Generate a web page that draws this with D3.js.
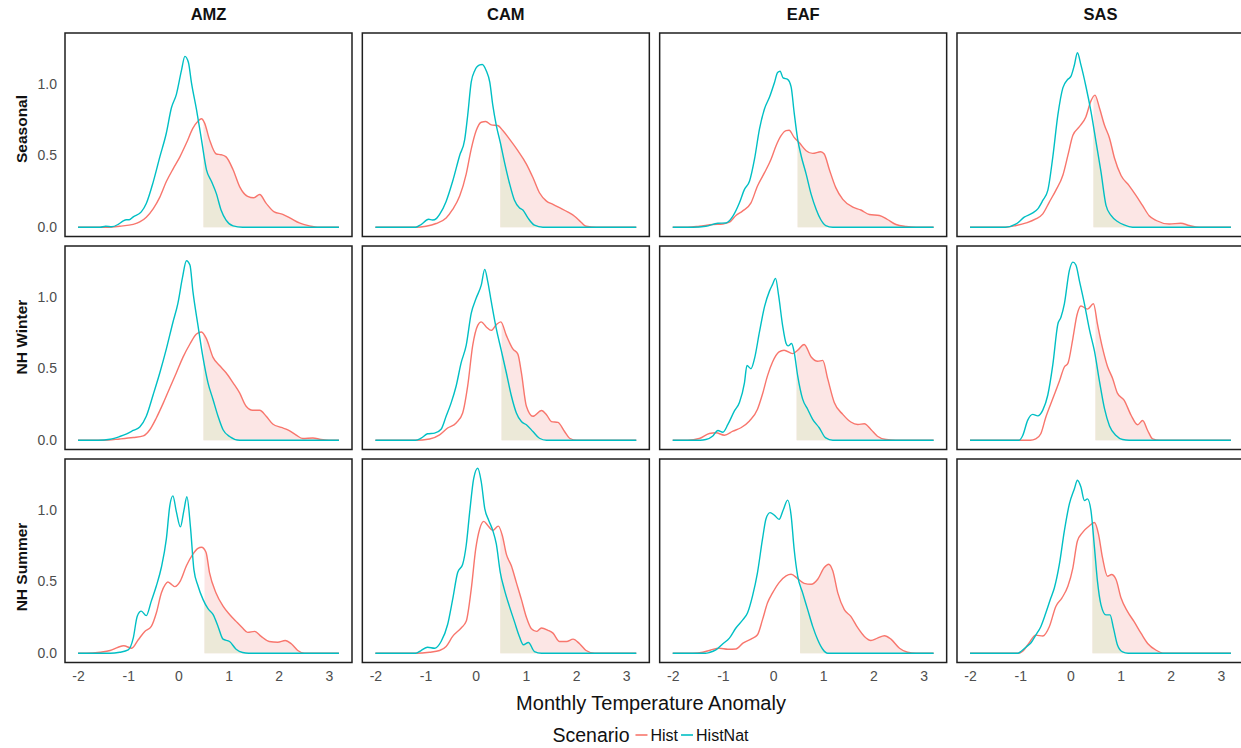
<!DOCTYPE html>
<html>
<head>
<meta charset="utf-8">
<script src="https://cdn.jsdelivr.net/npm/d3@7"></script>
<style>
  body { margin: 0; background: #ffffff; }
  svg text { font-family: "Liberation Sans", Arial, Helvetica, sans-serif; }
</style>
</head>
<body>
<svg id="chart" width="1241" height="748"></svg>
<script>
// ---------------- DATA ----------------
const regions = ["AMZ", "CAM", "EAF", "SAS"];
const seasons = ["Seasonal", "NH Winter", "NH Summer"];
const scenarios = ["Hist", "HistNat"];
const xTicks = [-2, -1, 0, 1, 2, 3];
const yTicks = [0, 0.5, 1.0];
const xTickLabels = ["-2", "-1", "0", "1", "2", "3"];
const yTickLabels = ["0.0", "0.5", "1.0"];
const xTitle = "Monthly Temperature Anomaly";
const legendTitle = "Scenario";

// threshold where shading starts (per region, for each season)
const thresholdSeasonal = [0.50, 0.49, 0.49, 0.46];
const thresholdWinter   = [0.50, 0.515, 0.47, 0.50];
const thresholdSummer   = [0.52, 0.49, 0.54, 0.44];

// density curves: [anomaly, density]
const amzSeasonalHist = [[-2,0],[-1.4,0],[-1.17,0.007],[-0.9,0.02],[-0.77,0.037],[-0.64,0.07],[-0.5,0.13],[-0.37,0.21],[-0.24,0.318],[-0.1,0.41],[0.03,0.49],[0.16,0.586],[0.29,0.69],[0.39,0.738],[0.46,0.755],[0.52,0.727],[0.62,0.61],[0.755,0.51],[0.85,0.505],[0.95,0.49],[1.09,0.40],[1.22,0.283],[1.38,0.215],[1.5,0.205],[1.62,0.228],[1.75,0.166],[1.91,0.107],[2.08,0.09],[2.25,0.06],[2.41,0.03],[2.61,0.01],[2.81,0],[3.2,0]];
const amzSeasonalNat = [[-2,0],[-1.56,0],[-1.45,0.007],[-1.33,0.003],[-1.2,0.02],[-1.1,0.044],[-1.04,0.052],[-0.98,0.052],[-0.9,0.072],[-0.74,0.107],[-0.64,0.166],[-0.5,0.318],[-0.37,0.49],[-0.24,0.656],[-0.14,0.83],[-0.04,0.925],[0.06,1.09],[0.13,1.19],[0.2,1.147],[0.26,1.007],[0.36,0.82],[0.46,0.61],[0.56,0.40],[0.66,0.318],[0.755,0.236],[0.85,0.12],[0.95,0.05],[1.09,0.01],[1.28,0],[3.2,0]];

const camSeasonalHist = [[-2,0],[-1.2,0],[-0.99,0.007],[-0.79,0.026],[-0.59,0.065],[-0.46,0.124],[-0.32,0.217],[-0.19,0.37],[-0.09,0.544],[0.01,0.673],[0.11,0.731],[0.2,0.736],[0.31,0.713],[0.44,0.708],[0.54,0.673],[0.67,0.615],[0.84,0.533],[1.01,0.44],[1.14,0.346],[1.27,0.24],[1.41,0.182],[1.54,0.159],[1.67,0.136],[1.84,0.105],[1.97,0.077],[2.1,0.035],[2.2,0.007],[2.4,0],[3.2,0]];
const camSeasonalNat = [[-2,0],[-1.2,0],[-1.09,0.019],[-0.94,0.056],[-0.86,0.05],[-0.78,0.062],[-0.72,0.089],[-0.59,0.18],[-0.46,0.32],[-0.32,0.50],[-0.22,0.61],[-0.16,0.78],[-0.09,1.01],[-0.02,1.09],[0.08,1.13],[0.13,1.133],[0.21,1.09],[0.28,1.01],[0.34,0.85],[0.41,0.71],[0.49,0.59],[0.575,0.45],[0.67,0.31],[0.77,0.19],[0.87,0.136],[0.94,0.12],[1.04,0.065],[1.17,0.014],[1.34,0],[3.2,0]];

const eafSeasonalHist = [[-2,0],[-1.7,0],[-1.47,0.007],[-1.2,0.019],[-1.0,0.023],[-0.87,0.035],[-0.74,0.082],[-0.61,0.112],[-0.44,0.17],[-0.31,0.287],[-0.17,0.38],[-0.04,0.474],[0.06,0.568],[0.16,0.638],[0.26,0.673],[0.32,0.675],[0.42,0.626],[0.52,0.59],[0.66,0.533],[0.79,0.514],[0.95,0.526],[1.02,0.51],[1.12,0.404],[1.25,0.276],[1.39,0.194],[1.59,0.14],[1.75,0.12],[1.92,0.089],[2.12,0.082],[2.28,0.054],[2.45,0.019],[2.65,0.005],[2.85,0],[3.2,0]];
const eafSeasonalNat = [[-2,0],[-1.6,0],[-1.34,0.007],[-1.1,0.028],[-0.94,0.03],[-0.8,0.077],[-0.67,0.17],[-0.57,0.264],[-0.47,0.32],[-0.37,0.474],[-0.27,0.685],[-0.17,0.825],[-0.07,0.907],[0.03,1.01],[0.09,1.077],[0.14,1.086],[0.2,1.04],[0.29,1.03],[0.36,0.977],[0.42,0.8],[0.49,0.614],[0.56,0.498],[0.66,0.37],[0.76,0.229],[0.86,0.124],[0.95,0.054],[1.05,0.012],[1.19,0],[3.2,0]];

const sasSeasonalHist = [[-2,0],[-1.3,0],[-1.08,0.012],[-0.88,0.03],[-0.69,0.058],[-0.55,0.093],[-0.42,0.175],[-0.29,0.257],[-0.15,0.362],[-0.05,0.50],[0.05,0.64],[0.18,0.70],[0.31,0.77],[0.41,0.88],[0.49,0.92],[0.58,0.83],[0.68,0.71],[0.78,0.62],[0.88,0.48],[1.01,0.36],[1.17,0.29],[1.31,0.22],[1.44,0.15],[1.57,0.08],[1.71,0.047],[1.97,0.023],[2.2,0.028],[2.37,0.012],[2.57,0],[3.2,0]];
const sasSeasonalNat = [[-2,0],[-1.3,0],[-1.08,0.023],[-0.92,0.07],[-0.75,0.1],[-0.65,0.128],[-0.55,0.187],[-0.45,0.257],[-0.35,0.49],[-0.25,0.78],[-0.15,0.97],[-0.05,1.03],[0.01,1.05],[0.08,1.13],[0.14,1.215],[0.21,1.13],[0.31,0.98],[0.41,0.806],[0.51,0.596],[0.61,0.385],[0.71,0.152],[0.81,0.082],[0.94,0.04],[1.07,0.016],[1.24,0],[3.2,0]];

const amzWinterHist = [[-2,0],[-1.5,0],[-1.17,0.009],[-0.9,0.019],[-0.7,0.03],[-0.57,0.073],[-0.44,0.155],[-0.3,0.26],[-0.17,0.366],[-0.04,0.47],[0.09,0.577],[0.23,0.67],[0.36,0.74],[0.46,0.754],[0.56,0.706],[0.69,0.577],[0.82,0.52],[0.95,0.47],[1.09,0.40],[1.22,0.33],[1.35,0.237],[1.48,0.209],[1.62,0.209],[1.75,0.167],[1.88,0.113],[2.05,0.089],[2.18,0.073],[2.34,0.038],[2.48,0.012],[2.68,0.016],[2.84,0.005],[3.0,0],[3.2,0]];
const amzWinterNat = [[-2,0],[-1.6,0],[-1.36,0.007],[-1.17,0.026],[-1.03,0.045],[-0.9,0.068],[-0.77,0.092],[-0.64,0.167],[-0.5,0.32],[-0.37,0.47],[-0.24,0.636],[-0.11,0.82],[-0.01,0.953],[0.08,1.13],[0.16,1.25],[0.23,1.22],[0.29,1.035],[0.39,0.80],[0.49,0.577],[0.59,0.40],[0.69,0.284],[0.79,0.167],[0.89,0.073],[1.02,0.026],[1.22,0],[3.2,0]];

const camWinterHist = [[-2,0],[-1.2,0],[-0.92,0.009],[-0.72,0.038],[-0.56,0.085],[-0.39,0.12],[-0.26,0.19],[-0.16,0.378],[-0.06,0.66],[0.04,0.80],[0.11,0.824],[0.21,0.789],[0.31,0.765],[0.41,0.805],[0.5,0.824],[0.61,0.73],[0.74,0.636],[0.84,0.60],[0.91,0.47],[1.01,0.237],[1.14,0.167],[1.31,0.207],[1.41,0.178],[1.51,0.13],[1.64,0.124],[1.77,0.061],[1.87,0.014],[2.01,0],[3.2,0]];
const camWinterNat = [[-2,0],[-1.2,0],[-1.09,0.014],[-0.96,0.045],[-0.82,0.05],[-0.69,0.077],[-0.59,0.167],[-0.49,0.26],[-0.39,0.378],[-0.29,0.54],[-0.19,0.66],[-0.09,0.883],[0.01,0.99],[0.11,1.08],[0.18,1.19],[0.24,1.105],[0.31,0.965],[0.41,0.777],[0.51,0.624],[0.61,0.47],[0.71,0.31],[0.81,0.19],[0.91,0.13],[1.01,0.108],[1.14,0.061],[1.27,0.014],[1.41,0],[3.2,0]];

const eafWinterHist = [[-2,0],[-1.7,0],[-1.47,0.012],[-1.27,0.047],[-1.14,0.052],[-0.97,0.035],[-0.8,0.063],[-0.64,0.087],[-0.47,0.134],[-0.31,0.216],[-0.21,0.322],[-0.11,0.45],[-0.01,0.545],[0.12,0.615],[0.22,0.627],[0.39,0.603],[0.49,0.627],[0.62,0.667],[0.76,0.58],[0.89,0.55],[0.99,0.556],[1.09,0.427],[1.22,0.263],[1.39,0.18],[1.55,0.127],[1.69,0.11],[1.82,0.115],[1.95,0.075],[2.08,0.028],[2.25,0.005],[2.45,0],[3.2,0]];
const eafWinterNat = [[-2,0],[-1.45,0],[-1.34,0.005],[-1.2,0.03],[-1.1,0.068],[-1.0,0.056],[-0.9,0.11],[-0.77,0.204],[-0.67,0.263],[-0.57,0.40],[-0.52,0.52],[-0.44,0.498],[-0.37,0.568],[-0.27,0.756],[-0.17,0.93],[-0.07,1.04],[-0.01,1.085],[0.05,1.127],[0.11,1.01],[0.19,0.80],[0.26,0.674],[0.3,0.657],[0.37,0.674],[0.42,0.615],[0.49,0.45],[0.59,0.286],[0.69,0.216],[0.79,0.146],[0.92,0.087],[1.05,0.016],[1.19,0],[3.2,0]];

const sasWinterHist = [[-2,0],[-0.8,0],[-0.69,0.009],[-0.59,0.045],[-0.49,0.16],[-0.35,0.29],[-0.22,0.41],[-0.12,0.51],[-0.05,0.535],[0.05,0.71],[0.13,0.87],[0.21,0.935],[0.34,0.913],[0.46,0.95],[0.54,0.808],[0.64,0.643],[0.74,0.514],[0.84,0.432],[0.94,0.326],[1.07,0.28],[1.21,0.174],[1.34,0.108],[1.44,0.138],[1.54,0.068],[1.64,0.009],[1.77,0],[3.2,0]];
const sasWinterNat = [[-2,0],[-1.02,0],[-0.95,0.033],[-0.85,0.14],[-0.75,0.18],[-0.65,0.17],[-0.55,0.21],[-0.45,0.315],[-0.35,0.526],[-0.25,0.808],[-0.19,0.855],[-0.12,0.95],[-0.02,1.183],[0.05,1.24],[0.11,1.22],[0.18,1.11],[0.28,0.95],[0.38,0.77],[0.48,0.62],[0.58,0.41],[0.68,0.22],[0.78,0.10],[0.91,0.033],[1.04,0.005],[1.17,0],[3.2,0]];

const amzSummerHist = [[-2,0],[-1.83,0],[-1.56,0.007],[-1.36,0.019],[-1.2,0.042],[-1.09,0.052],[-0.93,0.035],[-0.8,0.094],[-0.67,0.152],[-0.54,0.187],[-0.44,0.28],[-0.34,0.42],[-0.26,0.48],[-0.21,0.496],[-0.14,0.48],[-0.07,0.464],[0.04,0.504],[0.16,0.609],[0.29,0.69],[0.39,0.73],[0.46,0.738],[0.55,0.703],[0.62,0.562],[0.75,0.42],[0.89,0.328],[1.02,0.27],[1.15,0.222],[1.28,0.176],[1.38,0.145],[1.52,0.152],[1.65,0.117],[1.81,0.082],[1.98,0.077],[2.13,0.089],[2.25,0.066],[2.38,0.019],[2.51,0],[3.2,0]];
const amzSummerNat = [[-2,0],[-1.36,0],[-1.17,0.007],[-1.0,0.023],[-0.9,0.105],[-0.82,0.258],[-0.74,0.293],[-0.64,0.262],[-0.54,0.363],[-0.44,0.468],[-0.34,0.597],[-0.24,0.796],[-0.17,1.03],[-0.11,1.096],[-0.04,0.984],[0.04,0.88],[0.11,0.995],[0.17,1.09],[0.24,0.88],[0.31,0.58],[0.39,0.47],[0.49,0.375],[0.59,0.31],[0.69,0.27],[0.79,0.187],[0.89,0.098],[1.02,0.082],[1.15,0.028],[1.28,0.005],[1.4,0],[3.2,0]];

const camSummerHist = [[-2,0],[-1.2,0],[-0.92,0.007],[-0.72,0.019],[-0.59,0.047],[-0.46,0.117],[-0.29,0.176],[-0.19,0.222],[-0.09,0.445],[0.0,0.726],[0.08,0.867],[0.16,0.918],[0.24,0.89],[0.34,0.855],[0.45,0.885],[0.53,0.82],[0.61,0.69],[0.71,0.609],[0.81,0.492],[0.91,0.375],[1.01,0.25],[1.11,0.17],[1.21,0.152],[1.31,0.176],[1.44,0.16],[1.54,0.14],[1.67,0.082],[1.81,0.082],[1.94,0.098],[2.07,0.066],[2.2,0.019],[2.37,0],[3.2,0]];
const camSummerNat = [[-2,0],[-1.2,0],[-1.09,0.019],[-0.96,0.042],[-0.82,0.035],[-0.69,0.082],[-0.56,0.2],[-0.46,0.375],[-0.36,0.562],[-0.26,0.62],[-0.19,0.75],[-0.12,0.984],[-0.04,1.218],[0.04,1.288],[0.11,1.194],[0.18,1.007],[0.26,0.925],[0.34,0.855],[0.41,0.761],[0.49,0.562],[0.57,0.445],[0.67,0.328],[0.77,0.222],[0.87,0.117],[0.95,0.059],[1.05,0.075],[1.17,0.012],[1.31,0],[3.2,0]];

const eafSummerHist = [[-2,0],[-1.6,0],[-1.4,0.007],[-1.24,0.023],[-1.07,0.035],[-0.9,0.028],[-0.74,0.03],[-0.6,0.07],[-0.44,0.098],[-0.31,0.129],[-0.21,0.234],[-0.11,0.351],[-0.01,0.42],[0.12,0.492],[0.26,0.539],[0.36,0.55],[0.49,0.52],[0.62,0.487],[0.76,0.48],[0.89,0.515],[1.02,0.597],[1.11,0.62],[1.19,0.574],[1.29,0.42],[1.42,0.304],[1.55,0.257],[1.69,0.176],[1.82,0.117],[1.95,0.089],[2.08,0.105],[2.22,0.122],[2.35,0.098],[2.52,0.035],[2.68,0.007],[2.85,0],[3.2,0]];
const eafSummerNat = [[-2,0],[-1.35,0],[-1.27,0.005],[-1.14,0.023],[-1.0,0.066],[-0.87,0.105],[-0.74,0.176],[-0.6,0.234],[-0.51,0.28],[-0.41,0.398],[-0.31,0.562],[-0.21,0.796],[-0.14,0.937],[-0.06,0.979],[0.03,0.96],[0.12,0.932],[0.2,0.995],[0.29,1.066],[0.36,0.96],[0.42,0.726],[0.49,0.539],[0.59,0.42],[0.69,0.304],[0.79,0.187],[0.89,0.094],[0.99,0.028],[1.09,0],[3.2,0]];

const sasSummerHist = [[-2,0],[-1.05,0],[-0.95,0.014],[-0.83,0.068],[-0.69,0.126],[-0.55,0.12],[-0.42,0.185],[-0.29,0.326],[-0.17,0.384],[-0.05,0.466],[0.05,0.595],[0.14,0.782],[0.24,0.84],[0.38,0.888],[0.48,0.91],[0.56,0.83],[0.64,0.665],[0.74,0.536],[0.82,0.548],[0.91,0.513],[1.01,0.384],[1.14,0.29],[1.27,0.22],[1.41,0.138],[1.54,0.068],[1.71,0.021],[1.87,0],[3.2,0]];
const sasSummerNat = [[-2,0],[-1.05,0],[-0.98,0.014],[-0.88,0.044],[-0.78,0.075],[-0.69,0.126],[-0.59,0.185],[-0.49,0.28],[-0.39,0.384],[-0.32,0.454],[-0.22,0.618],[-0.12,0.852],[-0.02,1.04],[0.08,1.145],[0.14,1.204],[0.21,1.157],[0.28,1.063],[0.34,1.075],[0.41,0.993],[0.48,0.735],[0.54,0.5],[0.61,0.337],[0.71,0.267],[0.79,0.267],[0.86,0.173],[0.94,0.056],[1.04,0.009],[1.15,0],[3.2,0]];

// lookup tables built from the arrays above
const histCurves = [
  [amzSeasonalHist, camSeasonalHist, eafSeasonalHist, sasSeasonalHist],
  [amzWinterHist, camWinterHist, eafWinterHist, sasWinterHist],
  [amzSummerHist, camSummerHist, eafSummerHist, sasSummerHist]
];
const natCurves = [
  [amzSeasonalNat, camSeasonalNat, eafSeasonalNat, sasSeasonalNat],
  [amzWinterNat, camWinterNat, eafWinterNat, sasWinterNat],
  [amzSummerNat, camSummerNat, eafSummerNat, sasSummerNat]
];
const thresholds = [thresholdSeasonal, thresholdWinter, thresholdSummer];

// ---------------- LAYOUT / STYLE ----------------
const colHist = "#F8766D", colNat = "#00BFC4";
const fillHist = "#FCE6E5", fillNat = "#ECE9D8";
const textGrey = "#4D4D4D";
const left0 = 65, top0 = 33, pw = 287, ph = 203.5, stepX = 297.33, stepY = 213;
const rowLabelY = [129, 337, 567];

const svg = d3.select("#chart");

// shared scales (data range -2..3.2 with 5% expansion)
const xMin = -2, xMax = 3.2;
const xPad = (xMax - xMin) * 0.05;
const x = d3.scaleLinear().domain([xMin - xPad, xMax + xPad]).range([0, pw]);
const allY = [];
histCurves.flat().concat(natCurves.flat()).forEach(c => c.forEach(p => allY.push(p[1])));
const yMaxData = d3.max(allY);
const y = d3.scaleLinear().domain([-0.05 * yMaxData, yMaxData * 1.05]).range([ph, 0]);

const line = d3.line().x(d => x(d[0])).y(d => y(d[1])).curve(d3.curveMonotoneX);
const area = d3.area().x(d => x(d[0])).y0(y(0)).y1(d => y(d[1])).curve(d3.curveMonotoneX);

const defs = svg.append("defs");

seasons.forEach((season, r) => {
  regions.forEach((region, c) => {
    const gx = left0 + c * stepX, gy = top0 + r * stepY;
    const g = svg.append("g").attr("transform", `translate(${gx},${gy})`);
    const th = thresholds[r][c];
    const clipId = `clip-${r}-${c}`;
    defs.append("clipPath").attr("id", clipId)
      .append("rect")
      .attr("x", x(th)).attr("y", 0)
      .attr("width", pw - x(th)).attr("height", ph);

    // shaded tails
    g.append("path").datum(histCurves[r][c])
      .attr("d", area).attr("fill", fillHist).attr("clip-path", `url(#${clipId})`);
    g.append("path").datum(natCurves[r][c])
      .attr("d", area).attr("fill", fillNat).attr("clip-path", `url(#${clipId})`);

    // curves
    g.append("path").datum(histCurves[r][c])
      .attr("d", line).attr("fill", "none").attr("stroke", colHist).attr("stroke-width", 1.4);
    g.append("path").datum(natCurves[r][c])
      .attr("d", line).attr("fill", "none").attr("stroke", colNat).attr("stroke-width", 1.4);

    // border
    g.append("rect").attr("x", 0).attr("y", 0).attr("width", pw).attr("height", ph)
      .attr("fill", "none").attr("stroke", "#1f1f1f").attr("stroke-width", 1.5);

    // y axis labels (first column)
    if (c === 0) {
      const ya = d3.axisLeft(y).tickValues(yTicks).tickSize(0).tickPadding(8)
        .tickFormat((d, i) => yTickLabels[i]);
      const ag = g.append("g").call(ya);
      ag.select(".domain").remove();
      ag.selectAll("text").attr("fill", textGrey).style("font-size", "14px")
        .style("font-family", '"Liberation Sans", Arial, sans-serif');
    }
    // x axis labels (bottom row)
    if (r === seasons.length - 1) {
      const xa = d3.axisBottom(x).tickValues(xTicks).tickSize(0).tickPadding(9)
        .tickFormat((d, i) => xTickLabels[i]);
      const ag = g.append("g").attr("transform", `translate(0,${ph})`).call(xa);
      ag.select(".domain").remove();
      ag.selectAll("text").attr("fill", textGrey).style("font-size", "14px")
        .style("font-family", '"Liberation Sans", Arial, sans-serif');
    }
    // strip label (top row)
    if (r === 0) {
      svg.append("text").attr("x", gx + pw / 2).attr("y", 20)
        .attr("text-anchor", "middle").attr("font-weight", "bold")
        .attr("font-size", "16.5px").attr("fill", "#111").text(region);
    }
  });
  // row label
  svg.append("text")
    .attr("transform", `translate(21,${rowLabelY[r]}) rotate(-90)`)
    .attr("text-anchor", "middle").attr("dominant-baseline", "central")
    .attr("font-weight", "bold").attr("font-size", "15.5px").attr("fill", "#111")
    .text(season);
});

// x axis title
svg.append("text").attr("x", 651).attr("y", 710).attr("text-anchor", "middle")
  .attr("font-size", "20px").attr("fill", "#111").text(xTitle);

// legend
const lg = svg.append("g");
const lt = lg.append("text").attr("x", 0).attr("y", 742).attr("font-size", "19.5px")
  .attr("fill", "#111").text(legendTitle);
let cx = lt.node().getComputedTextLength() + 6;
[[scenarios[0], colHist], [scenarios[1], colNat]].forEach(([name, col]) => {
  lg.append("line").attr("x1", cx).attr("x2", cx + 12).attr("y1", 735).attr("y2", 735)
    .attr("stroke", col).attr("stroke-width", 1.6);
  cx += 15;
  const t = lg.append("text").attr("x", cx).attr("y", 741).attr("font-size", "16px")
    .attr("fill", "#111").text(name);
  cx += t.node().getComputedTextLength() + 3;
});
lg.attr("transform", `translate(${652 - cx / 2},0)`);
</script>
</body>
</html>
